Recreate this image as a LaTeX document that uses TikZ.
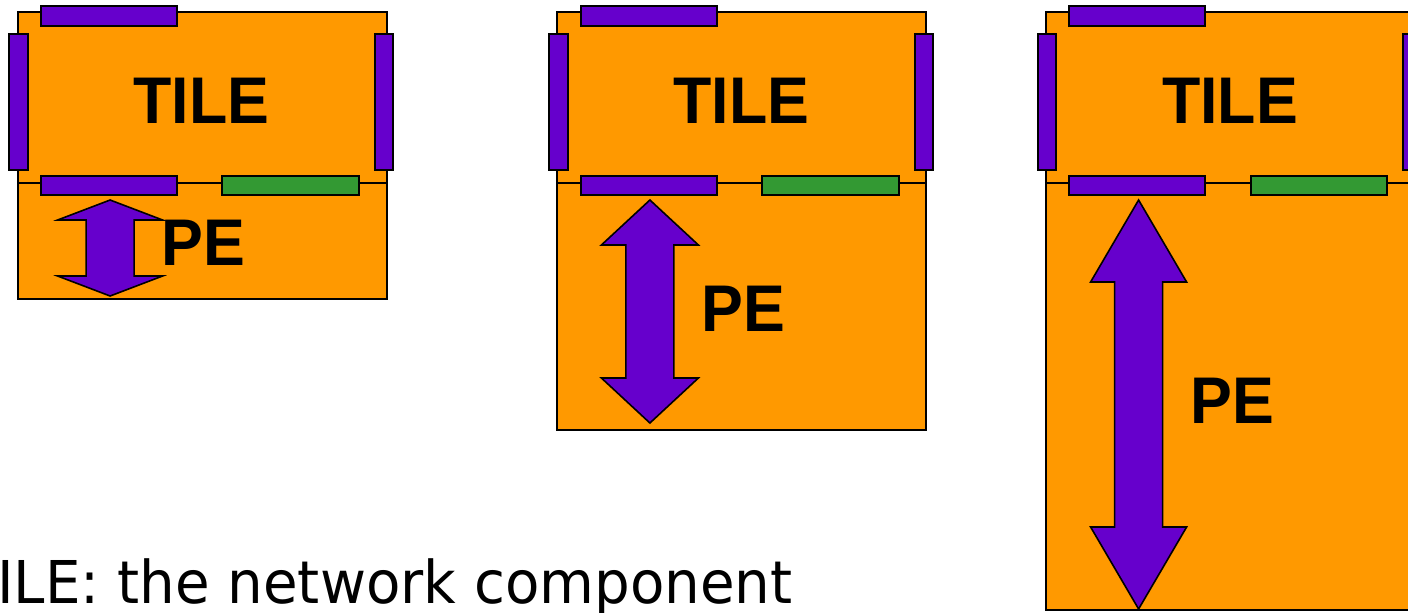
\documentclass[tikz,border=0pt]{standalone}
\usepackage{fontspec}
\setmainfont{Liberation Sans}
\newfontfamily\captionfont{DejaVu Sans}
\usetikzlibrary{positioning}

\definecolor{tileorange}{HTML}{FF9900}
\definecolor{portpurple}{HTML}{6600CC}
\definecolor{portgreen}{HTML}{339933}

% labels a bit narrower than the font gives
\newcommand{\narrowlabel}[1]{\scalebox{0.95}[1]{#1}}

\tikzset{
  tilebox/.style={fill=tileorange, draw=black, line width=1pt},
  port/.style={fill=portpurple, draw=black, line width=1pt},
  localport/.style={fill=portgreen, draw=black, line width=1pt},
  dataarrow/.style={fill=portpurple, draw=black, line width=0.8pt, line join=miter},
  biglabel/.style={font=\bfseries\fontsize{33}{36}\selectfont, inner sep=0pt},
}

\begin{document}
\begin{tikzpicture}[x=0.5pt, y=-0.5pt]
    \useasboundingbox (0,0) rectangle (1408,612);
    \clip (0,0) rectangle (1408,612);
    % three tiles, the PE part gets taller each time
    \foreach \l/\b/\tip/\hh/\hw/\pe [count=\i] in
      {17.5/299/296/20/52.5/265.7, 557.3/430/423/45/48.5/331.7, 1046/610/609/82/48/423}{
    \begin{scope}[shift={(\l,0)}]
    \draw[tilebox] (0,12) rectangle (369,\b);
    \draw[line width=0.6pt] (0,183) -- (369,183);
    % ports around the tile
    \draw[port] (23.2,6) rectangle (159.2,25.7);
    \draw[port] (-8.5,33.7) rectangle (10.2,170);
    \draw[port] (357.2,33.7) rectangle (375.8,170);
    \draw[port] (23.2,175.7) rectangle (159.2,194.7);
    \draw[localport] (204.8,175.7) rectangle (341.2,194.7);
    % double arrow between tile and PE
    \draw[dataarrow]
    (92.6,200) -- ++(\hw,\hh) -- (116.6,200+\hh) -- (116.6,\tip-\hh)
    -- (92.6+\hw,\tip-\hh) -- (92.6,\tip) -- (92.6-\hw,\tip-\hh)
    -- (68.6,\tip-\hh) -- (68.6,200+\hh) -- (92.6-\hw,200+\hh) -- cycle;
    \node[biglabel, anchor=base] (tile\i) at (184,123) {\narrowlabel{TILE}};
    \node[biglabel, anchor=base west] (pe\i) at (144,\pe) {\narrowlabel{PE}};
    \end{scope}
    }
    \node[font=\captionfont\fontsize{29.5}{32}\selectfont, anchor=base east, inner sep=0pt]
    (caption) at (793,603) {\scalebox{0.954}[1]{TILE: the network component}};
\end{tikzpicture}
\end{document}
